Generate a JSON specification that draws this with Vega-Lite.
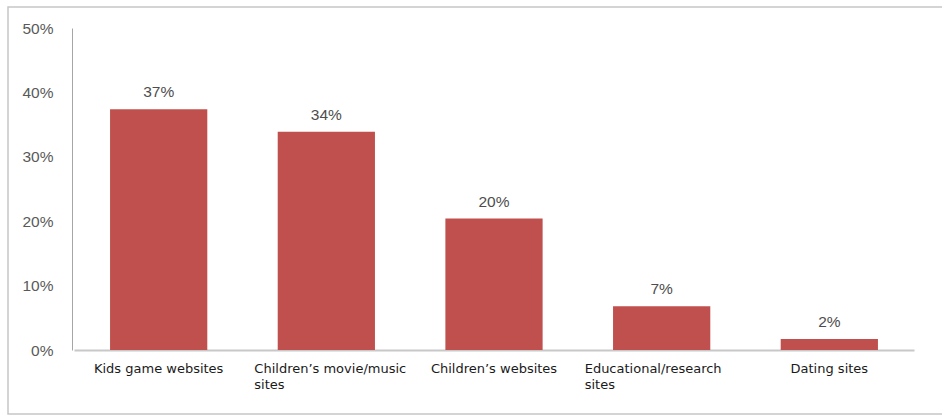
{
  "$schema": "https://vega.github.io/schema/vega-lite/v6.json",
  "width": 938,
  "height": 407,
  "autosize": {"type": "none"},
  "padding": {"left": 8, "top": 7, "right": -4, "bottom": 1},
  "background": "white",
  "config": {"view": {"stroke": "#c6c6c6", "strokeWidth": 1.5}},
  "data": {
    "values": [
      {"site": "Kids game websites", "share": 37.4, "label": "37%"},
      {"site": "Children’s movie/music sites", "share": 33.9, "label": "34%"},
      {"site": "Children’s websites", "share": 20.4, "label": "20%"},
      {"site": "Educational/research sites", "share": 6.8, "label": "7%"},
      {"site": "Dating sites", "share": 1.7, "label": "2%"}
    ]
  },
  "encoding": {
    "x": {
      "field": "site",
      "type": "nominal",
      "sort": null,
      "scale": {"range": [66, 906], "paddingInner": 0.42, "paddingOuter": 0.215},
      "axis": {
        "title": null,
        "orient": "bottom",
        "offset": -64,
        "labelAngle": 0,
        "ticks": false,
        "tickSize": 0,
        "domainColor": "#c8c8c8",
        "domainWidth": 2,
        "labelPadding": 12,
        "labelFont": "DejaVu Sans",
        "labelFontSize": 13,
        "labelColor": "#1a1a1a",
        "labelLineHeight": 16,
        "labelLimit": 0,
        "labelExpr": "datum.value == 'Children’s movie/music sites' ? ['Children’s movie/music', 'sites'] : datum.value == 'Educational/research sites' ? ['Educational/research', 'sites'] : datum.value",
        "labelAlign": {
          "condition": {"test": "datum.value == 'Children’s movie/music sites' || datum.value == 'Educational/research sites'", "value": "left"},
          "value": "center"
        },
        "labelOffset": {
          "condition": [
            {"test": "datum.value == 'Children’s movie/music sites'", "value": -72},
            {"test": "datum.value == 'Educational/research sites'", "value": -77}
          ],
          "value": 0
        }
      }
    },
    "y": {
      "field": "share",
      "type": "quantitative",
      "scale": {"domain": [0, 50], "range": [343, 21], "nice": false},
      "axis": {
        "title": null,
        "orient": "left",
        "offset": -64,
        "values": [0, 10, 20, 30, 40, 50],
        "grid": false,
        "ticks": false,
        "tickSize": 0,
        "domainColor": "#a6a6a6",
        "domainWidth": 1,
        "labelPadding": 19,
        "labelFont": "Liberation Sans",
        "labelFontSize": 15.5,
        "labelColor": "#595959",
        "labelExpr": "datum.value + '%'"
      }
    }
  },
  "layer": [
    {"mark": {"type": "bar", "color": "#C0504D"}},
    {
      "mark": {"type": "text", "baseline": "alphabetic", "dy": -12, "font": "Liberation Sans", "fontSize": 15.5, "color": "#4d4d4d"},
      "encoding": {"text": {"field": "label"}}
    }
  ]
}
